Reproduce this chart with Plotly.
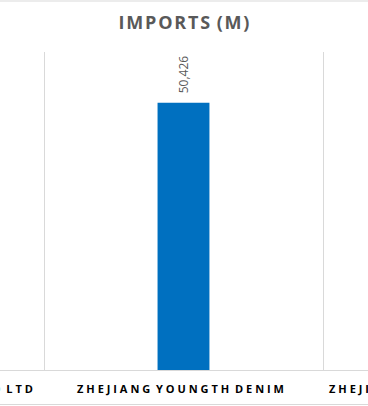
import plotly.graph_objects as go

categories = ["NINGBO YOUNGOR TEXTILE CO LTD", "ZHEJIANG YOUNGTH DENIM", "ZHEJIANG HUAFENG DENIM CO LTD"]
imports_m = [38210, 50426, 27530]
title_text = "IMPORTS (M)"

SP = "\u2009\u200a"  # thin + hair space to mimic letter spacing


def spaced(s, sep=SP):
    words = [sep.join(list(w)) for w in s.split(" ")]
    return (sep + " ").join(words)


X0, X1 = 0.3423, 1.6613  # visible category window

fig = go.Figure()
fig.add_trace(go.Bar(
    x=categories, y=imports_m,
    marker=dict(color="#0070C0", line=dict(width=0)),
    width=0.186,
    hoverinfo="x+y",
))

annotations = []
for i, c in enumerate(categories):
    annotations.append(dict(
        x=(i - X0) / (X1 - X0) - 0.008, y=-0.058, xref="paper", yref="paper",
        text="<b>" + spaced(c) + "</b>", showarrow=False,
        xanchor="center", yanchor="middle",
        font=dict(family="Open Sans", size=11, color="#000000"),
    ))
annotations.append(dict(
    x=1, y=imports_m[1], xref="x", yref="y",
    text=f"{imports_m[1]:,}", showarrow=False, textangle=-90,
    xanchor="center", yanchor="bottom", yshift=7,
    font=dict(family="Open Sans", size=12, color="#595959"),
))

fig.update_layout(
    width=368, height=406,
    margin=dict(l=0, r=0, t=52, b=36),
    paper_bgcolor="white", plot_bgcolor="white",
    showlegend=False,
    title=dict(
        text="<b>" + spaced(title_text, "\u200a") + "</b>",
        x=0.5, xanchor="center", y=1 - 23 / 406, yanchor="middle",
        font=dict(family="Open Sans", size=18, color="#595959"),
    ),
    xaxis=dict(
        type="category", range=[X0, X1],
        tickson="boundaries", showgrid=True, gridcolor="#D9D9D9", gridwidth=1,
        showticklabels=False, ticks="", showline=True, linecolor="#D9D9D9", linewidth=1,
        zeroline=False, fixedrange=True,
    ),
    yaxis=dict(
        range=[0, 60000], showgrid=False, showticklabels=False, zeroline=False,
        showline=False, ticks="", fixedrange=True,
    ),
    annotations=annotations,
    shapes=[
        dict(type="line", xref="paper", yref="paper", x0=0, x1=1, y0=1 + 51 / 318, y1=1 + 51 / 318,
             line=dict(color="#D9D9D9", width=1)),
        dict(type="line", xref="paper", yref="paper", x0=0, x1=1, y0=-34.5 / 318, y1=-34.5 / 318,
             line=dict(color="#D9D9D9", width=1)),
    ],
)

fig.write_html("out.html")
